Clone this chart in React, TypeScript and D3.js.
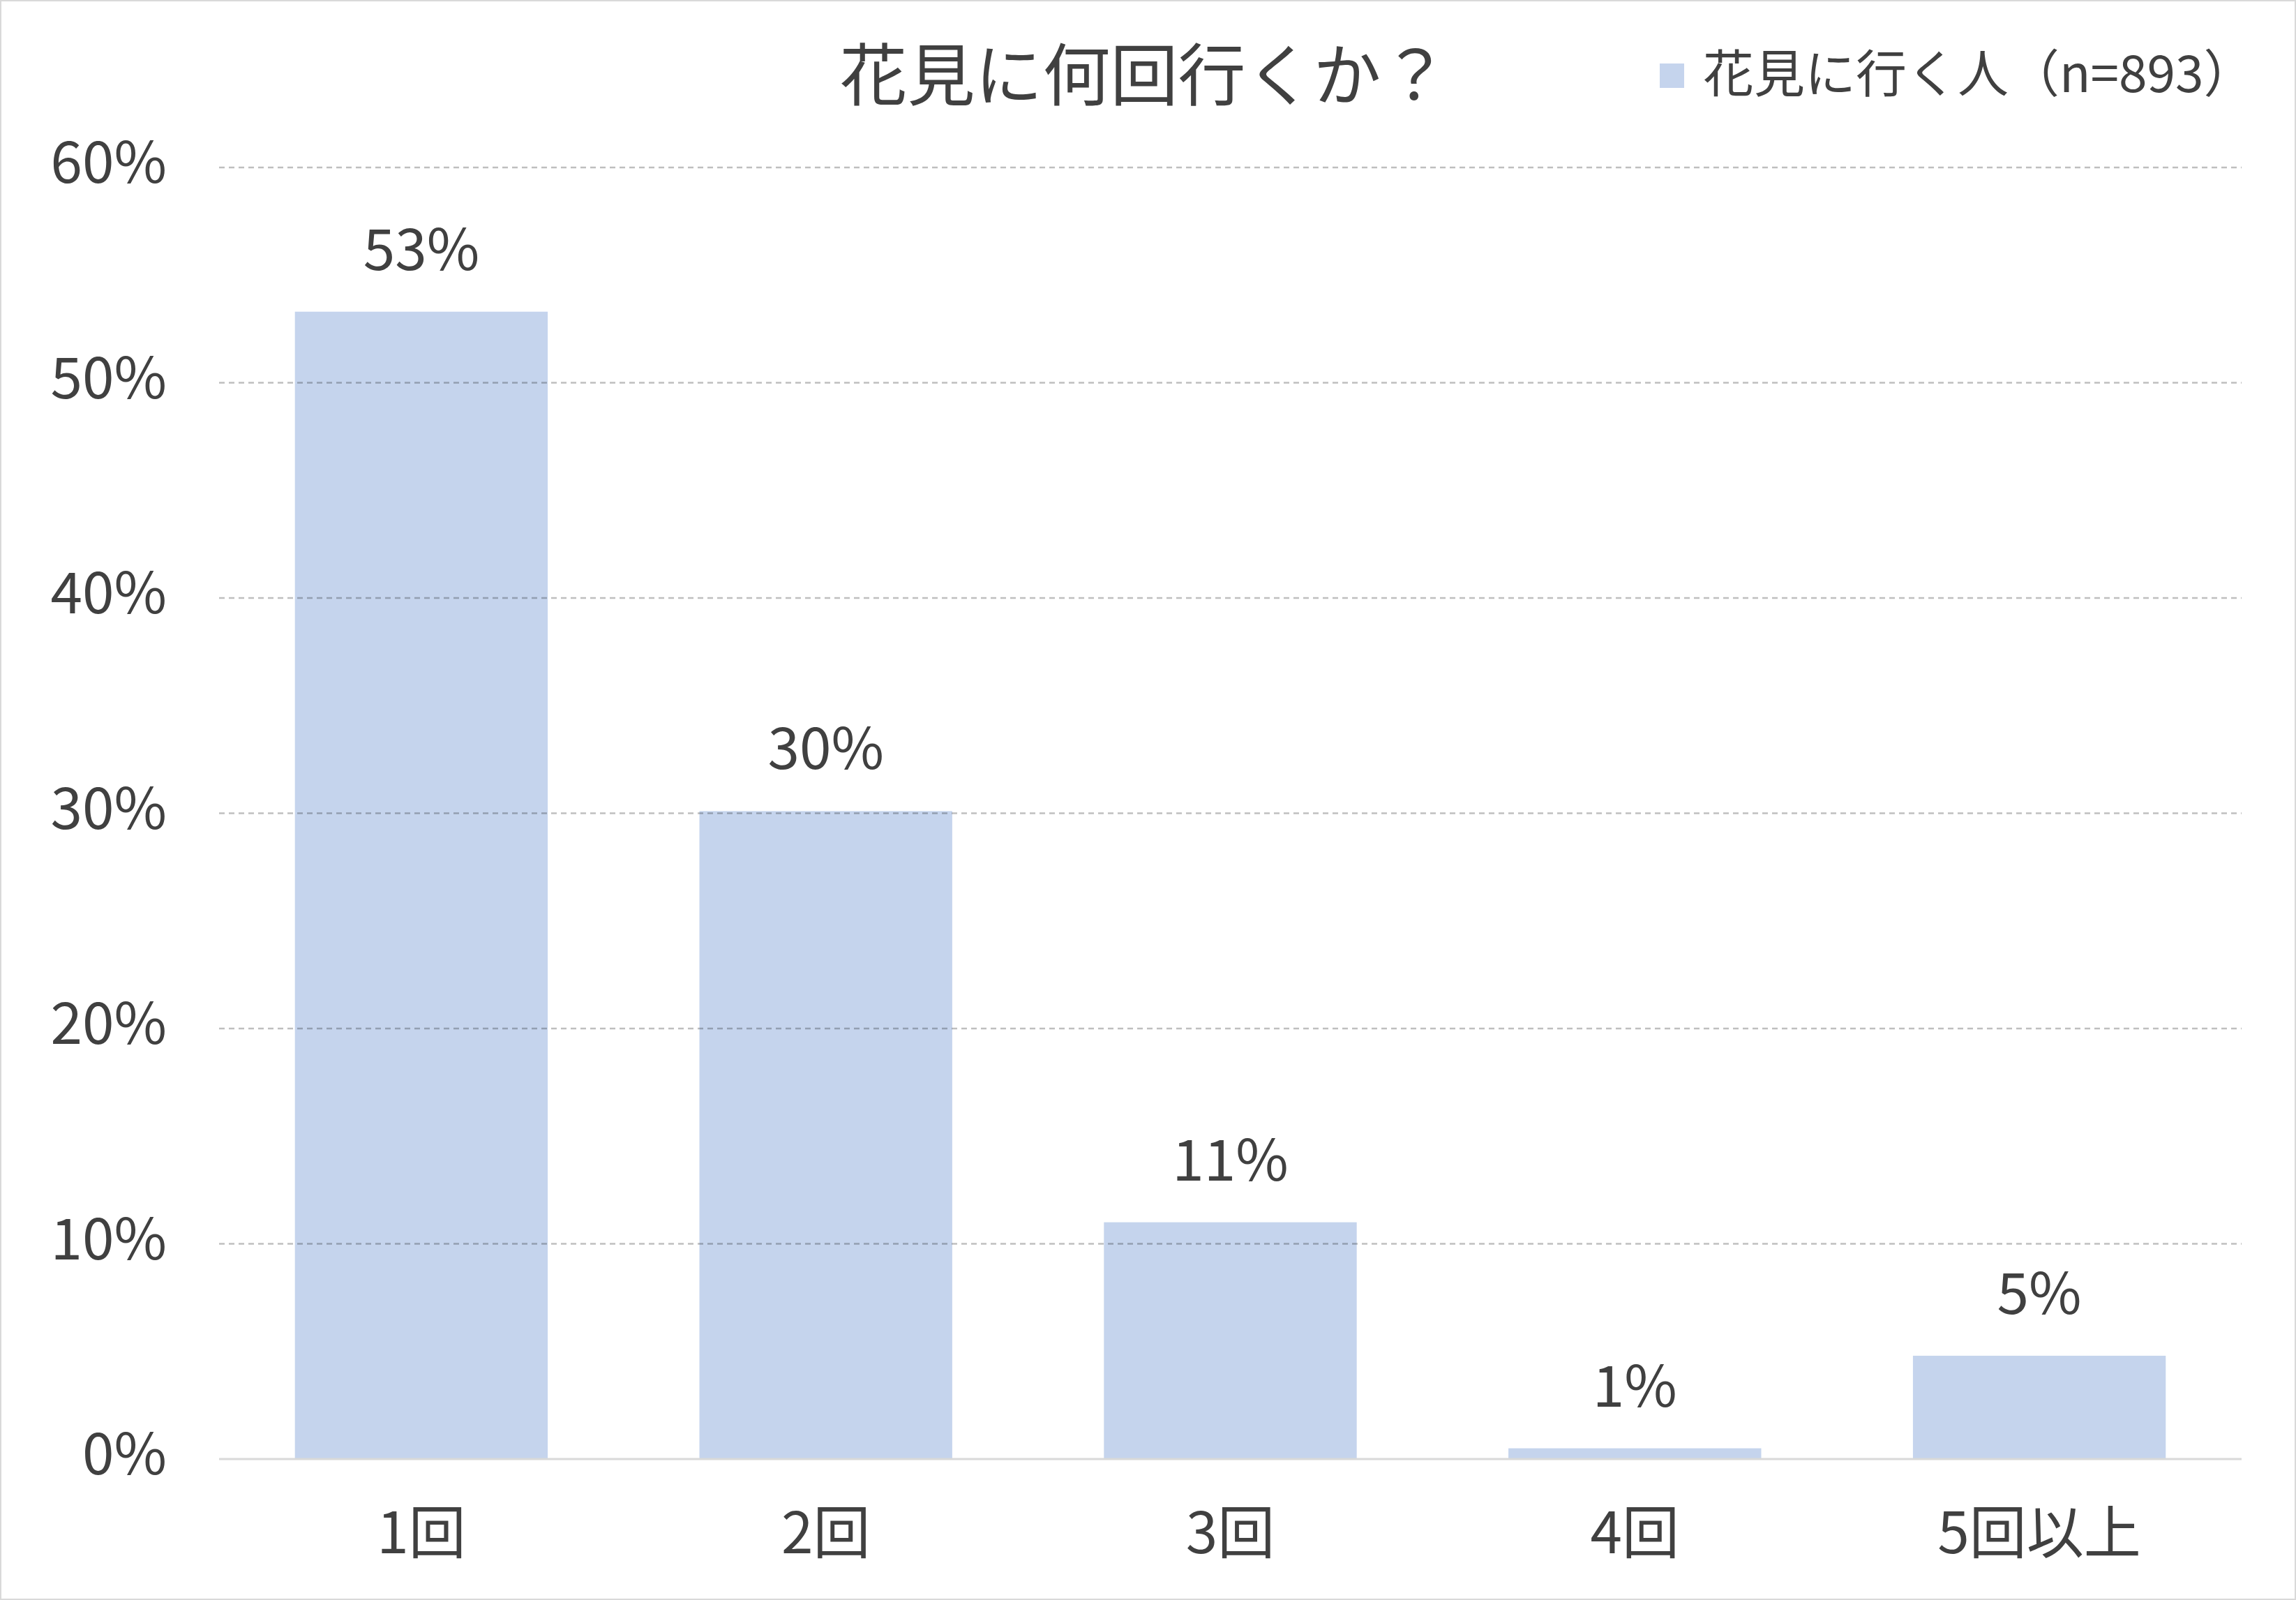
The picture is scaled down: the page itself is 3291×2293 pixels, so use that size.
import React from 'react'
import * as d3 from 'd3'

const categories = ['1回', '2回', '3回', '4回', '5回以上']
const values = [0.533, 0.301, 0.11, 0.005, 0.048]
const yTicks = [0, 0.1, 0.2, 0.3, 0.4, 0.5, 0.6]
const title = '花見に何回行くか？'
const legendLabel = '花見に行く人（n=893）'

const W = 3291
const H = 2293
const FONT = '"Noto Sans CJK JP", "Noto Sans", sans-serif'
const TEXT = '#404040'
const BAR = '#C5D4ED'

export default function App() {
  // plot area
  const left = 314
  const right = 3213
  const top = 240
  const bottom = 2091

  const x = d3.scaleBand<string>()
    .domain(categories)
    .range([left, right])
    .paddingInner(0.375)
    .paddingOuter(0.1875)

  const y = d3.scaleLinear()
    .domain([0, 0.6])
    .range([bottom, top])

  const pct = d3.format('.0%')

  return (
    <svg
      width={W}
      height={H}
      viewBox={`0 0 ${W} ${H}`}
      style={{ position: 'absolute', left: 0, top: 0, display: 'block', background: '#fff' }}
      fontFamily={FONT}
    >
      <rect x={1} y={1} width={W - 2} height={H - 2} fill="#fff" stroke="#d9d9d9" strokeWidth={2} />

      {/* bars */}
      {values.map((v, i) => (
        <rect
          key={categories[i]}
          x={x(categories[i])}
          y={y(v)}
          width={x.bandwidth()}
          height={bottom - y(v)}
          fill={BAR}
        />
      ))}

      {/* grid lines, drawn over the bars like in the source */}
      {yTicks.filter(t => t > 0).map(t => (
        <line
          key={t}
          x1={left}
          x2={right}
          y1={y(t)}
          y2={y(t)}
          stroke="rgba(0,0,0,0.25)"
          strokeWidth={2.5}
          strokeDasharray="8 6"
        />
      ))}

      {/* x axis line */}
      <line x1={left} x2={right} y1={bottom} y2={bottom} stroke="#d9d9d9" strokeWidth={3} />

      {/* y tick labels */}
      {yTicks.map(t => (
        <text
          key={t}
          x={239}
          y={y(t) + 22}
          textAnchor="end"
          fontSize={82}
          fill={TEXT}
        >
          {pct(t)}
        </text>
      ))}

      {/* data labels */}
      {values.map((v, i) => (
        <text
          key={categories[i]}
          x={(x(categories[i]) ?? 0) + x.bandwidth() / 2}
          y={y(v) - 60}
          textAnchor="middle"
          fontSize={82}
          fill={TEXT}
        >
          {pct(v)}
        </text>
      ))}

      {/* category labels */}
      {categories.map(c => (
        <text
          key={c}
          x={(x(c) ?? 0) + x.bandwidth() / 2}
          y={2190}
          textAnchor="middle"
          dominantBaseline="central"
          fontSize={82}
          fill={TEXT}
        >
          {c}
        </text>
      ))}

      {/* title */}
      <text x={1640} y={100} textAnchor="middle" dominantBaseline="central" fontSize={97} fill={TEXT}>
        {title}
      </text>

      {/* legend */}
      <rect x={2379} y={91} width={35} height={35} fill={BAR} />
      <text x={2441} y={100} dominantBaseline="central" fontSize={73} fill={TEXT}>
        {legendLabel}
      </text>
    </svg>
  )
}
